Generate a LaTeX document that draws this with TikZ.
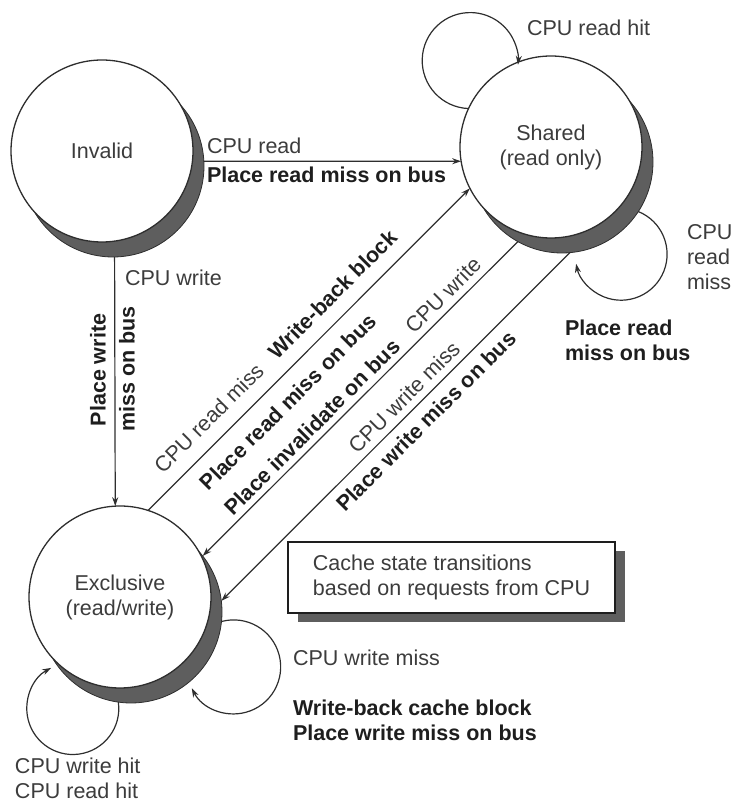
\documentclass[tikz,border=0pt]{standalone}
\usepackage{fontspec}
\setmainfont{Liberation Sans}
\usetikzlibrary{arrows.meta,shadows}
\definecolor{txt}{HTML}{3C3C3C}
\definecolor{btxt}{HTML}{1E1E1E}
\definecolor{shade}{HTML}{5E5E5E}
\definecolor{ln}{HTML}{2E2E2E}
\begin{document}
\begin{tikzpicture}[x=1pt,y=1pt,
  every node/.style={font=\fontsize{21.5}{25}\selectfont, text=txt, inner sep=0pt, outer sep=0pt},
  state/.style={circle, draw=ln, line width=1.3pt, fill=white, minimum size=182pt, align=center},
  stshadow/.style={circle, fill=shade, draw=ln, line width=0.8pt, minimum size=182pt},
  conn/.style={draw=ln, line width=1.2pt, -{Stealth[length=9pt,width=6pt]}},
  bl/.style={text=btxt, font=\fontsize{21.5}{25}\selectfont\bfseries},
  diag/.style={rotate=45, anchor=center},
  notebox/.style={draw=btxt, line width=1.5pt, fill=white, minimum width=327pt, minimum height=71pt,
    align=left,
    drop shadow={shadow xshift=10pt, shadow yshift=-9pt, fill=shade, opacity=1}},
]
\useasboundingbox (0,0) rectangle (736,804);
% shadows of the states
\node[stshadow] (invs) at (113,638) {};
\node[stshadow] (shds) at (562,642) {};
\node[stshadow] (excs) at (131,192) {};
% states
\node[state] (inv) at (102,653) {Invalid};
\node[state] (shd) at (551,657) {Shared\\(read only)};
\node[state] (exc) at (120,207) {Exclusive\\(read/write)};
% transitions
\draw[conn] (invs.3) -- (shd.189);
\draw[conn] (invs.271) -- (exc.93.8);
\draw[conn] (exc.72) -- (shd.207);
\draw[conn] (shds.241) -- (excs.38);
\draw[conn] (shds.275) -- (excs.7);
% loops
\draw[conn] (shd.155) arc[start angle=268, end angle=-5, radius=48];
\draw[conn] (shds.-33) arc[start angle=68, end angle=-168, radius=46];
\draw[conn] (excs.262) arc[start angle=8, end angle=-242, radius=46];
\draw[conn] (excs.-6) arc[start angle=105, end angle=-153, radius=47];
% labels
\node[anchor=west] (l1) at (207,658) {CPU read};
\node[anchor=west, bl] (l2) at (207,629) {Place read miss on bus};
\node[anchor=west] (l3) at (125,526) {CPU write};
\node[bl, rotate=90] (l4) at (98,434) {Place write};
\node[bl, rotate=90] (l5) at (127,435) {miss on bus};
\node[anchor=west] (l6) at (527,776) {CPU read hit};
\node[anchor=west, align=left] (l7) at (687,547) {CPU\\read\\miss};
\node[anchor=west, align=left, bl] (l8) at (565,463.5) {Place read\\miss on bus};
\node[diag] (l9) at (208.7,385.8) {CPU read miss};
\node[diag, bl] (l10) at (332.5,509.6) {Write-back block};
\node[diag, bl] (l11) at (288,402) {Place read miss on bus};
\node[diag, bl] (l12) at (312,377) {Place invalidate on bus};
\node[diag] (l13) at (443,509) {CPU write};
\node[diag] (l14) at (404,407) {CPU write miss};
\node[diag, bl] (l15) at (426,383) {Place write miss on bus};
\node[notebox] (note) at (451.5,226.5) {Cache state transitions\\based on requests from CPU};
\node[anchor=west] (l16) at (293,146) {CPU write miss};
\node[anchor=west, align=left, bl] (l17) at (293,83.5) {Write-back cache block\\Place write miss on bus};
\node[anchor=west, align=left] (l18) at (15,26) {CPU write hit\\CPU read hit};
\end{tikzpicture}
\end{document}
